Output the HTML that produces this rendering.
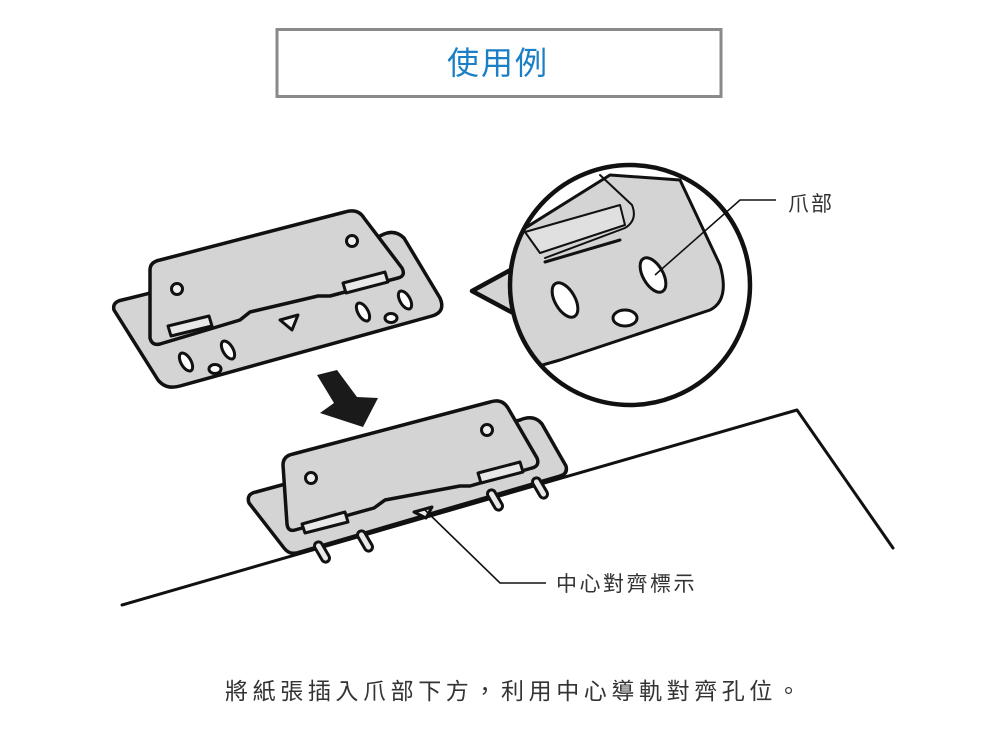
<!DOCTYPE html>
<html><head><meta charset="utf-8"><style>
html,body{margin:0;padding:0;background:#fff;}
body{width:1000px;height:745px;overflow:hidden;position:relative;font-family:"Liberation Sans","Noto Sans CJK TC",sans-serif;}
</style></head><body>
<svg width="1000" height="745" viewBox="0 0 1000 745" xmlns="http://www.w3.org/2000/svg" style="position:absolute;left:0;top:0">
<rect x="277" y="29.5" width="444" height="67" fill="#fff" stroke="#8a8a8a" stroke-width="3"/>
<text x="498" y="74" text-anchor="middle" font-size="32" fill="#1a7fc4" font-family="Liberation Sans, Noto Sans CJK TC, sans-serif" letter-spacing="2">使用例</text>

<g stroke="#111" stroke-width="3.5" stroke-linejoin="round" stroke-linecap="round">
<polyline points="122,605 797,410 893,548" fill="none" stroke-width="3"/>

<path d="M114,310 Q112,302 122,300 L380,236 Q394,228 404,238 L440,298 Q446,312 432,316 L180,386 Q166,390 158,380 Z" fill="#d4d4d4"/>
<path d="M150,270 Q150,262 160,260 L345,212 Q358,208 364,218 L402,268 Q406,276 398,278 L330,296 L318,296 L250,312 L240,320 L160,344 Q152,346 150,338 Z" fill="#d4d4d4"/>
<polygon points="168,326 209,316 212,326 171,336" fill="#e8e8e8" stroke-width="3"/>
<polygon points="343,283 385,272 388,282 346,293" fill="#e8e8e8" stroke-width="3"/>
<circle cx="177" cy="289" r="5.5" fill="#eee" stroke-width="3"/>
<circle cx="352" cy="241" r="5.5" fill="#eee" stroke-width="3"/>
<polygon points="280,320 298,315 292,330" fill="#eee" stroke-width="3"/>
<ellipse cx="186" cy="362" rx="5" ry="10" transform="rotate(-30 186 362)" fill="#fff" stroke-width="3"/>
<ellipse cx="228" cy="350" rx="5" ry="10" transform="rotate(-30 228 350)" fill="#fff" stroke-width="3"/>
<ellipse cx="215" cy="369" rx="6" ry="4.5" fill="#fff" stroke-width="3"/>
<ellipse cx="363" cy="312" rx="5" ry="10" transform="rotate(-30 363 312)" fill="#fff" stroke-width="3"/>
<ellipse cx="405" cy="300" rx="5" ry="10" transform="rotate(-30 405 300)" fill="#fff" stroke-width="3"/>
<ellipse cx="391" cy="318" rx="6" ry="4.5" fill="#fff" stroke-width="3"/>

<polygon points="317,375 337,370 357,397 378,398 363,427 320,413 334,403" fill="#1a1a1a" stroke="none"/>

<path d="M249,503 Q246,494 256,492 L520,420 Q534,414 542,424 L566,466 Q568,474 560,476 L300,552 Q290,556 284,548 Z" fill="#d4d4d4"/>
<path d="M283,465 Q283,456 293,454 L490,402 Q502,398 508,408 L537,458 Q540,466 532,468 L470,486 L460,486 L385,500 L374,508 L295,530 Q288,532 287,524 Z" fill="#d4d4d4"/>
<polygon points="302,524 345,512 348,522 305,533" fill="#e8e8e8" stroke-width="3"/>
<polygon points="478,473 520,462 523,472 481,483" fill="#e8e8e8" stroke-width="3"/>
<circle cx="311" cy="478" r="5.5" fill="#eee" stroke-width="3"/>
<circle cx="487" cy="430" r="5.5" fill="#eee" stroke-width="3"/>
<polygon points="414,512 432,507 426,518" fill="#eee" stroke-width="3"/>
<g fill="#e8e8e8" stroke-width="3">
<rect x="-4" y="-11" width="8" height="22" rx="4" transform="translate(322,552) rotate(-30)"/>
<rect x="-4" y="-11" width="8" height="22" rx="4" transform="translate(365,541) rotate(-30)"/>
<rect x="-4" y="-11" width="8" height="22" rx="4" transform="translate(495,500) rotate(-30)"/>
<rect x="-4" y="-11" width="8" height="22" rx="4" transform="translate(540,488) rotate(-30)"/>
</g>

<!-- zoom bubble -->
<polygon points="525,262 472,291 530,322" fill="#d4d4d4" stroke-width="4.5"/>
<circle cx="630" cy="285" r="120" fill="#fff" stroke="none"/>
<clipPath id="cc"><circle cx="630" cy="285" r="118"/></clipPath>
<g clip-path="url(#cc)">
<path d="M490,250 L610,175 L680,180 L720,265 Q730,300 710,310 L560,360 L490,380 Z" fill="#d4d4d4" stroke-width="3"/>
<path d="M600,175 L632,205 Q638,220 625,228 L545,258" fill="none" stroke-width="2"/>
<path d="M525,232 L620,205 L625,225 L540,253 Z" fill="#e0e0e0" stroke-width="2"/>
<line x1="545" y1="262" x2="620" y2="240" stroke-width="3"/>
<ellipse cx="565" cy="300" rx="10" ry="19" transform="rotate(-30 565 300)" fill="#fff" stroke-width="3"/>
<ellipse cx="653" cy="275" rx="10" ry="19" transform="rotate(-30 653 275)" fill="#fff" stroke-width="3"/>
<ellipse cx="625" cy="318" rx="12" ry="8" fill="#fff" stroke-width="3"/>
</g>
<circle cx="630" cy="285" r="120" fill="none" stroke-width="4.5"/>
</g>

<polyline points="655,275 740,200 776,200" fill="none" stroke="#111" stroke-width="1.6"/>
<polyline points="425,510 500,583 546,583" fill="none" stroke="#111" stroke-width="1.6"/>

<text x="788" y="211" font-size="21" fill="#333" font-family="Liberation Sans, Noto Sans CJK TC, sans-serif" letter-spacing="2">爪部</text>
<text x="556" y="591" font-size="21" fill="#333" font-family="Liberation Sans, Noto Sans CJK TC, sans-serif" letter-spacing="2.5">中心對齊標示</text>
<text x="225" y="699" font-size="23" fill="#333" font-family="Liberation Sans, Noto Sans CJK TC, sans-serif" letter-spacing="4.6">將紙張插入爪部下方，利用中心導軌對齊孔位。</text>
</svg>
</body></html>
